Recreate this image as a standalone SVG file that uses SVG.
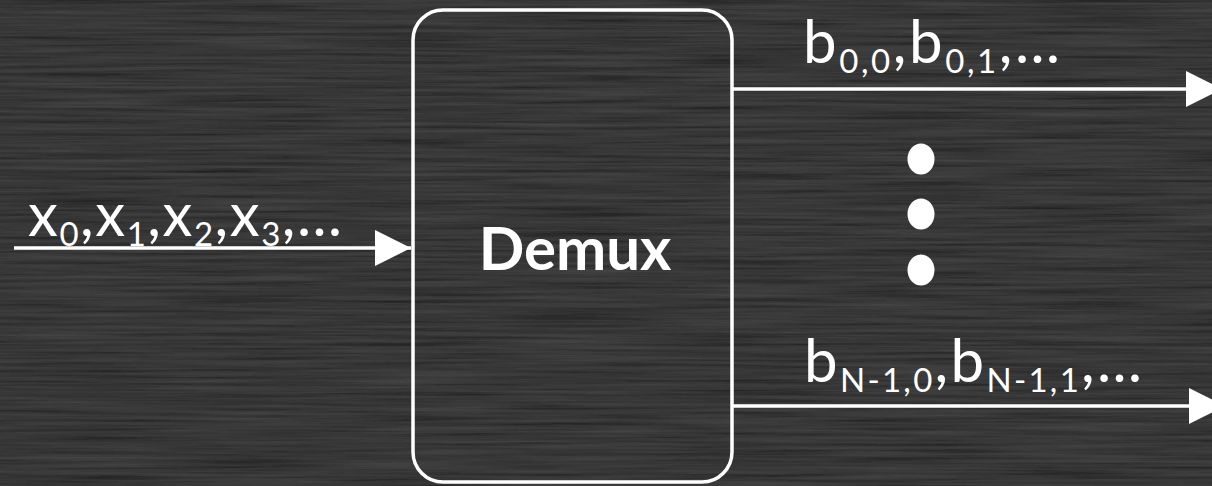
<svg xmlns="http://www.w3.org/2000/svg" width="1212" height="486" viewBox="0 0 1212 486">
<defs>
<filter id="chalk" x="0" y="0" width="100%" height="100%">
<feTurbulence type="fractalNoise" baseFrequency="0.006 0.3" numOctaves="3" seed="4" result="n"/>
<feColorMatrix in="n" type="matrix" values="0 0 0 0 0.45  0 0 0 0 0.45  0 0 0 0 0.45  0 0 0 0.12 0" result="c"/>
<feComposite in="c" in2="SourceGraphic" operator="over"/>
</filter>
<marker id="arr" markerUnits="userSpaceOnUse" markerWidth="36" markerHeight="36" refX="35" refY="17.5" orient="auto" viewBox="0 0 35 35">
<path d="M0,0 L35,17.5 L0,35 Z" fill="#ffffff"/>
</marker>
<style>
.t{font-family:Lato,"Open Sans",sans-serif;fill:#ffffff;}
.m{font-size:60px;}
.s{font-size:33px;}
.ln{stroke:#ffffff;stroke-width:3.5;fill:none;}
</style>
</defs>
<rect x="0" y="0" width="1212" height="486" fill="#1c1c1c" filter="url(#chalk)"/>
<g id="connectors">
<line class="ln" x1="14" y1="248" x2="411" y2="248" marker-end="url(#arr)"/>
<line class="ln" x1="732" y1="89" x2="1222" y2="89" marker-end="url(#arr)"/>
<line class="ln" x1="732" y1="406" x2="1225" y2="406" marker-end="url(#arr)"/>
</g>
<g id="demux">
<rect x="413" y="10" width="319" height="472" rx="30" ry="30" fill="none" stroke="#ffffff" stroke-width="3.5"/>
<text class="t" x="575" y="270" text-anchor="middle" font-size="60" font-weight="bold">Demux</text>
</g>
<g id="input-label">
<text class="t m" x="28" y="236" textLength="314" lengthAdjust="spacing">x<tspan class="s" dy="10">0</tspan><tspan dy="-10">,x</tspan><tspan class="s" dy="10">1</tspan><tspan dy="-10">,x</tspan><tspan class="s" dy="10">2</tspan><tspan dy="-10">,x</tspan><tspan class="s" dy="10">3</tspan><tspan dy="-10">,…</tspan></text>
</g>
<g id="out-top-label">
<text class="t m" x="803" y="63" textLength="257" lengthAdjust="spacing">b<tspan class="s" dy="10">0,0</tspan><tspan dy="-10">,b</tspan><tspan class="s" dy="10">0,1</tspan><tspan dy="-10">,…</tspan></text>
</g>
<g id="out-bottom-label">
<text class="t m" x="804" y="382" textLength="338" lengthAdjust="spacing">b<tspan class="s" dy="10">N-1,0</tspan><tspan dy="-10">,b</tspan><tspan class="s" dy="10">N-1,1</tspan><tspan dy="-10">,…</tspan></text>
</g>
<g id="dots" fill="#ffffff">
<ellipse cx="921" cy="159" rx="13.5" ry="15.5"/>
<ellipse cx="921" cy="214" rx="13.5" ry="15.5"/>
<ellipse cx="921" cy="270" rx="13.5" ry="15.5"/>
</g>
</svg>
